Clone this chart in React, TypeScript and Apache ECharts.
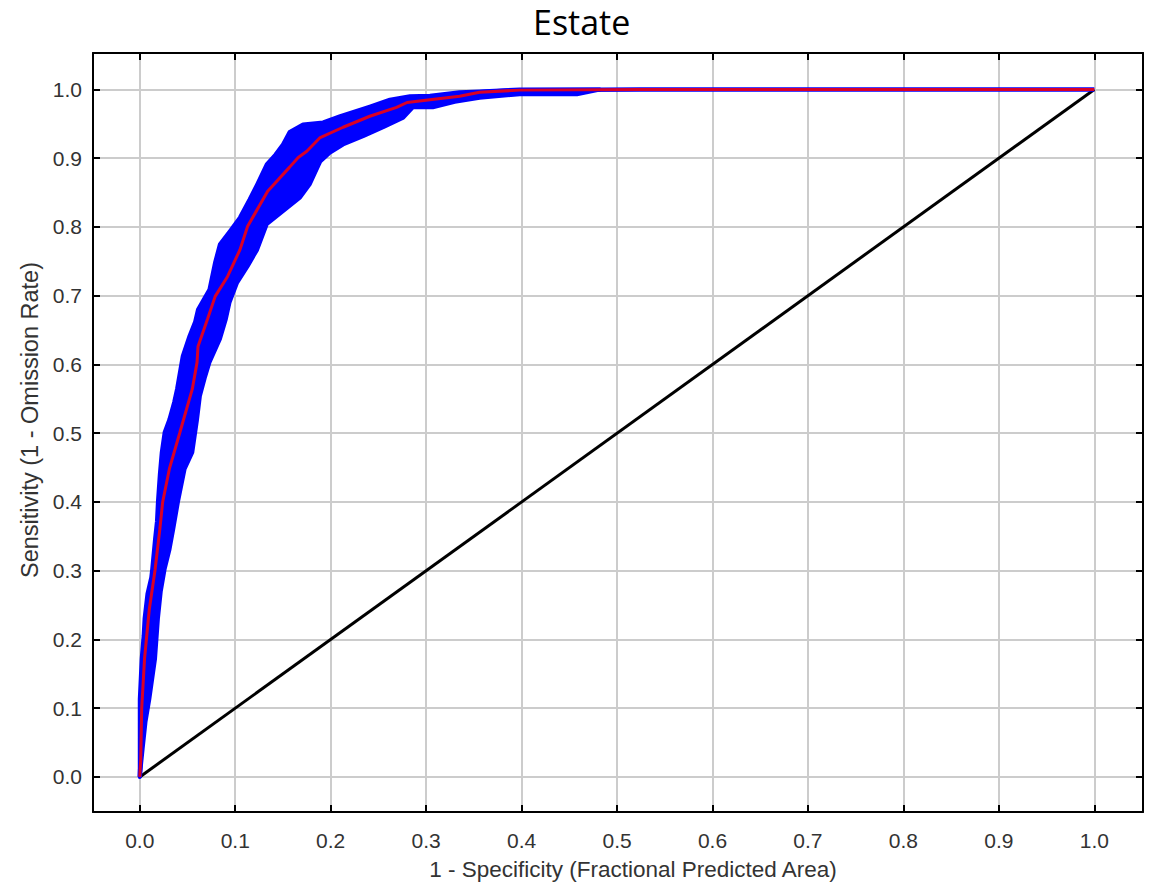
import React, { useEffect, useRef } from 'react';
import * as echarts from 'echarts';

const TITLE = 'Estate';
const X_NAME = '1 - Specificity (Fractional Predicted Area)';
const Y_NAME = 'Sensitivity (1 - Omission Rate)';

const X_TICKS = [0, 0.1, 0.2, 0.3, 0.4, 0.5, 0.6, 0.7, 0.8, 0.9, 1.0];
const Y_TICKS = [0, 0.1, 0.2, 0.3, 0.4, 0.5, 0.6, 0.7, 0.8, 0.9, 1.0];

// Mean ROC curve (red)
const meanCurve: [number, number][] = [
  [0.0, 0.0], [0.001, 0.026], [0.002, 0.099], [0.005, 0.172], [0.007, 0.201],
  [0.01, 0.244], [0.016, 0.301], [0.021, 0.36], [0.024, 0.4], [0.031, 0.448],
  [0.042, 0.501], [0.055, 0.564], [0.06, 0.603], [0.061, 0.626], [0.071, 0.666],
  [0.079, 0.699], [0.092, 0.728], [0.105, 0.767], [0.113, 0.801], [0.134, 0.852],
  [0.157, 0.887], [0.166, 0.901], [0.175, 0.91], [0.189, 0.93], [0.213, 0.945],
  [0.241, 0.961], [0.269, 0.974], [0.28, 0.981], [0.304, 0.985], [0.335, 0.99],
  [0.356, 0.996], [0.398, 0.999], [0.524, 1.0], [1.0, 1.0],
];

// Mean + one std dev (upper / left edge of the blue band)
const bandUpper: [number, number][] = [
  [0.0, 0.0], [0.0, 0.055], [0.0, 0.113], [0.002, 0.172], [0.004, 0.205],
  [0.005, 0.23], [0.008, 0.266], [0.012, 0.29], [0.013, 0.302], [0.016, 0.346],
  [0.018, 0.372], [0.019, 0.4], [0.021, 0.44], [0.023, 0.472], [0.026, 0.501],
  [0.031, 0.52], [0.036, 0.545], [0.039, 0.564], [0.045, 0.612], [0.052, 0.641],
  [0.058, 0.662], [0.061, 0.68], [0.073, 0.709], [0.079, 0.749], [0.084, 0.775],
  [0.095, 0.795], [0.105, 0.814], [0.115, 0.84], [0.123, 0.862], [0.133, 0.891],
  [0.142, 0.905], [0.15, 0.92], [0.157, 0.938], [0.171, 0.949], [0.192, 0.952],
  [0.21, 0.961], [0.241, 0.975], [0.262, 0.985], [0.283, 0.99], [0.304, 0.991],
  [0.335, 0.996], [0.356, 0.997], [0.398, 1.0], [0.461, 1.0],
];

// Mean - one std dev (lower / right edge of the blue band)
const bandLower: [number, number][] = [
  [0.0, 0.0], [0.003, 0.041], [0.006, 0.08], [0.01, 0.113], [0.016, 0.172],
  [0.019, 0.23], [0.022, 0.27], [0.026, 0.302], [0.031, 0.33], [0.035, 0.36],
  [0.04, 0.4], [0.047, 0.448], [0.055, 0.472], [0.06, 0.52], [0.063, 0.554],
  [0.068, 0.58], [0.073, 0.603], [0.084, 0.637], [0.09, 0.665], [0.094, 0.69],
  [0.102, 0.719], [0.113, 0.743], [0.123, 0.767], [0.133, 0.804], [0.15, 0.823],
  [0.168, 0.843], [0.178, 0.862], [0.184, 0.88], [0.189, 0.895], [0.199, 0.908],
  [0.213, 0.92], [0.234, 0.932], [0.255, 0.945], [0.276, 0.959], [0.286, 0.974],
  [0.307, 0.974], [0.33, 0.982], [0.356, 0.988], [0.398, 0.993], [0.458, 0.993],
  [0.482, 1.0],
];

// Random prediction line
const randomLine: [number, number][] = [[0, 0], [1, 1]];

const FONT = 'Liberation Sans, Arial, sans-serif';

export default function App() {
  const ref = useRef<HTMLDivElement>(null);

  useEffect(() => {
    if (!ref.current) return;
    const chart = echarts.init(ref.current, null, { renderer: 'svg' });

    const fmt = (v: number) => Number(v).toFixed(1);

    const commonX = {
      type: 'value' as const,
      min: -0.049,
      max: 1.051,
      splitNumber: 11,
      minInterval: 0.1,
      maxInterval: 0.1,
    };
    const commonY = {
      type: 'value' as const,
      min: -0.051,
      max: 1.053,
      splitNumber: 11,
      minInterval: 0.1,
      maxInterval: 0.1,
    };
    const lineStyleAxis = { color: '#000', width: 2 };
    const tickStyle = { show: true, inside: true, length: 7, lineStyle: { color: '#000', width: 2 } };

    const polygonPts = bandUpper.concat(bandLower.slice().reverse());

    chart.setOption({
      animation: false,
      backgroundColor: '#fff',
      title: {
        text: TITLE,
        left: 533,
        top: 5,
        padding: 0,
        textStyle: { fontFamily: 'Open Sans', fontSize: 34, fontWeight: 'normal', color: '#000' },
      },
      grid: { left: 93, top: 53, width: 1050, height: 759, containLabel: false },
      xAxis: [
        {
          ...commonX,
          position: 'bottom',
          axisLine: { show: true, onZero: false, lineStyle: lineStyleAxis },
          axisTick: { ...tickStyle, customValues: X_TICKS },
          axisLabel: { customValues: X_TICKS, formatter: fmt, fontSize: 21, color: '#333', margin: 18, fontFamily: FONT },
          splitLine: { show: true, lineStyle: { color: '#cccccc', width: 2 } },
          name: X_NAME,
          nameLocation: 'middle',
          nameGap: 46,
          nameTextStyle: { fontSize: 22.5, color: '#333', fontFamily: FONT, padding: [0, 0, 0, 30] },
        },
        {
          ...commonX,
          position: 'top',
          axisLine: { show: true, onZero: false, lineStyle: lineStyleAxis },
          axisTick: { ...tickStyle, customValues: X_TICKS },
          axisLabel: { show: false },
          splitLine: { show: false },
        },
      ],
      yAxis: [
        {
          ...commonY,
          position: 'left',
          axisLine: { show: true, onZero: false, lineStyle: lineStyleAxis },
          axisTick: { ...tickStyle, customValues: Y_TICKS },
          axisLabel: { customValues: Y_TICKS, formatter: fmt, fontSize: 21, color: '#333', margin: 11, fontFamily: FONT },
          splitLine: { show: true, lineStyle: { color: '#cccccc', width: 2 } },
          name: Y_NAME,
          nameLocation: 'middle',
          nameGap: 50,
          nameTextStyle: { fontSize: 23.5, color: '#333', fontFamily: FONT, padding: [0, 0, 0, 25] },
        },
        {
          ...commonY,
          position: 'right',
          axisLine: { show: true, onZero: false, lineStyle: lineStyleAxis },
          axisTick: { ...tickStyle, customValues: Y_TICKS },
          axisLabel: { show: false },
          splitLine: { show: false },
        },
      ],
      series: [
        {
          type: 'line',
          name: 'Random Prediction',
          data: randomLine,
          xAxisIndex: 0,
          yAxisIndex: 0,
          symbol: 'none',
          lineStyle: { color: '#000', width: 3 },
          z: 2,
        },
        {
          type: 'custom',
          name: 'Mean +/- one stddev',
          xAxisIndex: 0,
          yAxisIndex: 0,
          data: [[0, 0]],
          clip: true,
          renderItem: (params: any, api: any) => {
            if (params.dataIndex !== 0) return null;
            const pts = polygonPts.map((p) => api.coord(p));
            return {
              type: 'polygon',
              shape: { points: pts },
              style: { fill: '#0000ff', stroke: '#0000ff', lineWidth: 4, lineJoin: 'round' },
            };
          },
          z: 3,
        },
        {
          type: 'line',
          name: 'band line',
          data: meanCurve,
          xAxisIndex: 0,
          yAxisIndex: 0,
          symbol: 'none',
          lineStyle: { color: '#0000ff', width: 4.5 },
          z: 4,
        },
        {
          type: 'line',
          name: 'Mean (AUC)',
          data: meanCurve,
          xAxisIndex: 0,
          yAxisIndex: 0,
          symbol: 'none',
          lineStyle: { color: '#ff0000', width: 3, opacity: 0.85 },
          z: 5,
        },
      ],
    });

    return () => chart.dispose();
  }, []);

  return (
    <div
      ref={ref}
      style={{ position: 'fixed', left: 0, top: 0, width: 1154, height: 889, background: '#fff' }}
    />
  );
}
